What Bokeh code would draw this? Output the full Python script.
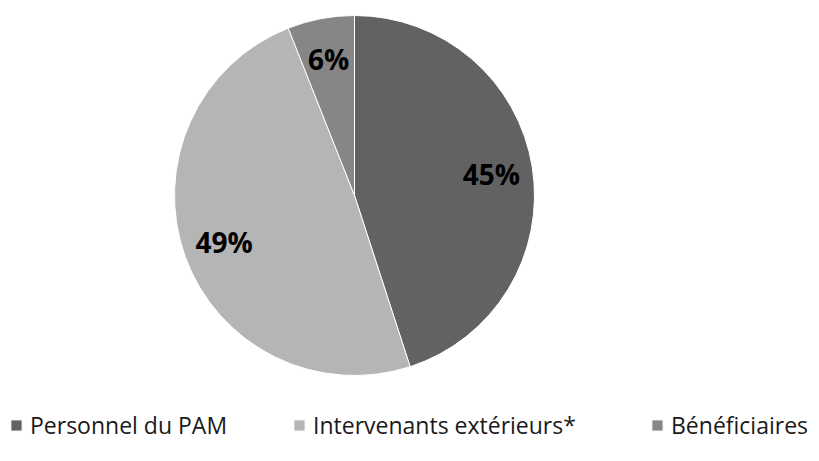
import math
from bokeh.plotting import figure
from bokeh.models import Range1d, ColumnDataSource, Legend, LegendItem, LabelSet
from bokeh.core.properties import value
from bokeh.embed import file_html
from bokeh.resources import INLINE

categories = ["Personnel du PAM", "Intervenants extérieurs*", "Bénéficiaires"]
shares = [45, 49, 6]
labels = ["45%", "49%", "6%"]
colors = ["#626262", "#b5b5b5", "#868686"]

W, H = 819, 461
cx, cy, R = 354, H - 195, 180
label_r = 0.77 * R

total = sum(shares)
starts, ends, lx, ly = [], [], [], []
acc = 0.0
for s in shares:
    a0 = math.pi / 2 - 2 * math.pi * acc / total
    a1 = math.pi / 2 - 2 * math.pi * (acc + s) / total
    starts.append(a0)
    ends.append(a1)
    mid = (a0 + a1) / 2
    lx.append(cx + label_r * math.cos(mid))
    ly.append(cy + label_r * math.sin(mid))
    acc += s

src = ColumnDataSource(dict(cat=categories, start=starts, end=ends, color=colors,
                            lab=labels, lx=lx, ly=ly))

p = figure(width=W, height=H, x_range=Range1d(0, W), y_range=Range1d(0, H),
           output_backend="svg", toolbar_location=None, min_border=0)
p.axis.visible = False
p.grid.visible = False
p.outline_line_color = None
p.background_fill_color = "white"

r = p.wedge(x=cx, y=cy, radius=R, start_angle="end", end_angle="start",
            fill_color="color", line_color="white", line_width=1, source=src)

p.add_layout(LabelSet(x="lx", y="ly", text="lab", source=src, text_align="center",
                      text_baseline="middle", text_font=value("Open Sans"),
                      text_font_style="bold", text_font_size="28px", text_color="black"))

legend_x = [9, 292, 650]
for i, name in enumerate(categories):
    lg = Legend(items=[LegendItem(label=name, renderers=[r], index=i)],
                location=(legend_x[i], 20), orientation="horizontal",
                padding=0, margin=0, border_line_color=None, background_fill_alpha=0,
                glyph_width=14, glyph_height=14, label_standoff=7,
                label_text_font="Open Sans", label_text_font_size="23px",
                label_text_color="#1a1a1a")
    p.add_layout(lg, "center")

open("out.html", "w").write(file_html(p, INLINE))
